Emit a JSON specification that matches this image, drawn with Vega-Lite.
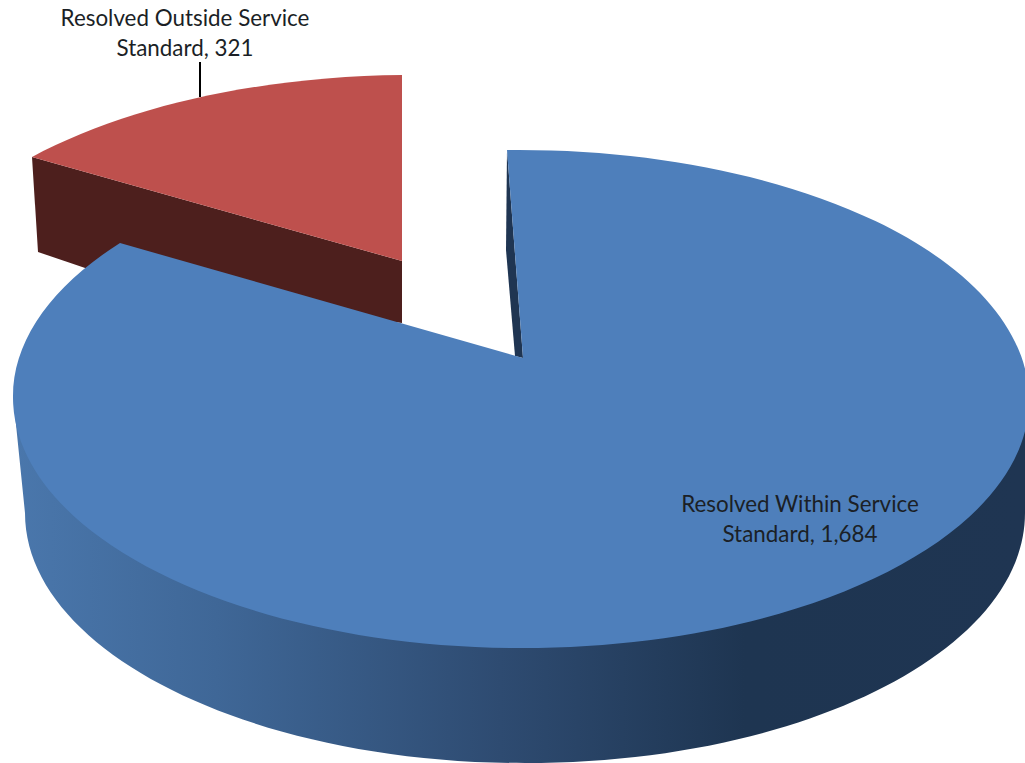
{
  "$schema": "https://vega.github.io/schema/vega-lite/v6.json",
  "description": "Exploded 3D pie of resolved cases. Rows hold the slice values; the perspective slice outlines are symbol shapes, since an arc mark cannot be drawn elliptical.",
  "width": 1025,
  "height": 763,
  "autosize": "none",
  "padding": 0,
  "background": "white",
  "config": {"view": {"stroke": null}},
  "data": {"values": [
    {"category": "Resolved Outside Service Standard", "value": 321, "label": "Resolved Outside Service\nStandard, 321"},
    {"category": "Resolved Within Service Standard", "value": 1684, "label": "Resolved Within Service\nStandard, 1,684"}
  ]},
  "layer": [
    {
      "transform": [{"filter": "datum.value === 321"}],
      "mark": {"type": "point", "filled": true, "opacity": 1, "size": 40000, "fill": "#4D1F1D", "stroke": null,
        "shape": "M-4.805 -2.245 L-4.745 -1.295 L-3.625 -0.915 L-1.105 -0.585 L-1.105 -1.205 Z"},
      "encoding": {}
    },
    {
      "transform": [{"filter": "datum.value === 321"}],
      "mark": {"type": "point", "filled": true, "opacity": 1, "size": 40000, "fill": "#BE504D", "stroke": null,
        "shape": "M-1.105 -3.065 L-1.105 -1.205 L-4.805 -2.245 A5.127 2.49 0 0 1 -1.105 -3.065 Z"},
      "encoding": {}
    },
    {
      "transform": [{"filter": "datum.value === 321"}],
      "mark": {"type": "point", "filled": false, "opacity": 1, "size": 40000, "stroke": "#000000", "strokeWidth": 2,
        "shape": "M-3.125 -3.195 L-3.125 -2.845"},
      "encoding": {}
    },
    {
      "transform": [{"filter": "datum.value === 1684"}],
      "mark": {"type": "point", "filled": true, "opacity": 1, "size": 40000, "stroke": null,
        "fill": {"gradient": "linear", "x1": 0, "y1": 0, "x2": 1, "y2": 0, "stops": [
          {"offset": 0, "color": "#4A77AC"},
          {"offset": 0.2, "color": "#3F6797"},
          {"offset": 0.48, "color": "#2E4B71"},
          {"offset": 0.72, "color": "#1E3551"},
          {"offset": 1, "color": "#1F3552"}
        ]},
        "shape": "M-4.995 0.135 L-4.875 1.315 A5 2.5 0 0 0 5.125 1.315 L5.165 0.185 Z"},
      "encoding": {}
    },
    {
      "transform": [{"filter": "datum.value === 1684"}],
      "mark": {"type": "point", "filled": true, "opacity": 1, "size": 40000, "fill": "#1F3552", "stroke": null,
        "shape": "M-0.055 -2.315 L-0.065 -1.315 L0.025 -0.255 L0.105 -0.235 Z"},
      "encoding": {}
    },
    {
      "transform": [{"filter": "datum.value === 1684"}],
      "mark": {"type": "point", "filled": true, "opacity": 1, "size": 40000, "fill": "#4E7FBB", "stroke": null,
        "shape": "M-0.055 -2.315 A5.1 2.5 0 0 1 5.165 0.185 A5.07 2.48 0 0 1 0.095 2.665 A5.09 2.51 0 0 1 -4.995 0.155 A5.09 2.5 0 0 1 -3.925 -1.385 L0.105 -0.235 Z"},
      "encoding": {}
    },
    {
      "mark": {"type": "text", "font": "Lato", "fontSize": 22.4, "lineHeight": 30, "lineBreak": "\n", "align": "center", "baseline": "middle", "color": "#1B1F26"},
      "encoding": {
        "text": {"field": "label"},
        "x": {"field": "category", "type": "nominal", "axis": null, "scale": {"domain": ["Resolved Outside Service Standard", "Resolved Within Service Standard"], "range": [185, 800], "padding": 0}},
        "y": {"field": "category", "type": "nominal", "axis": null, "scale": {"domain": ["Resolved Outside Service Standard", "Resolved Within Service Standard"], "range": [19, 505], "padding": 0}}
      }
    }
  ]
}
